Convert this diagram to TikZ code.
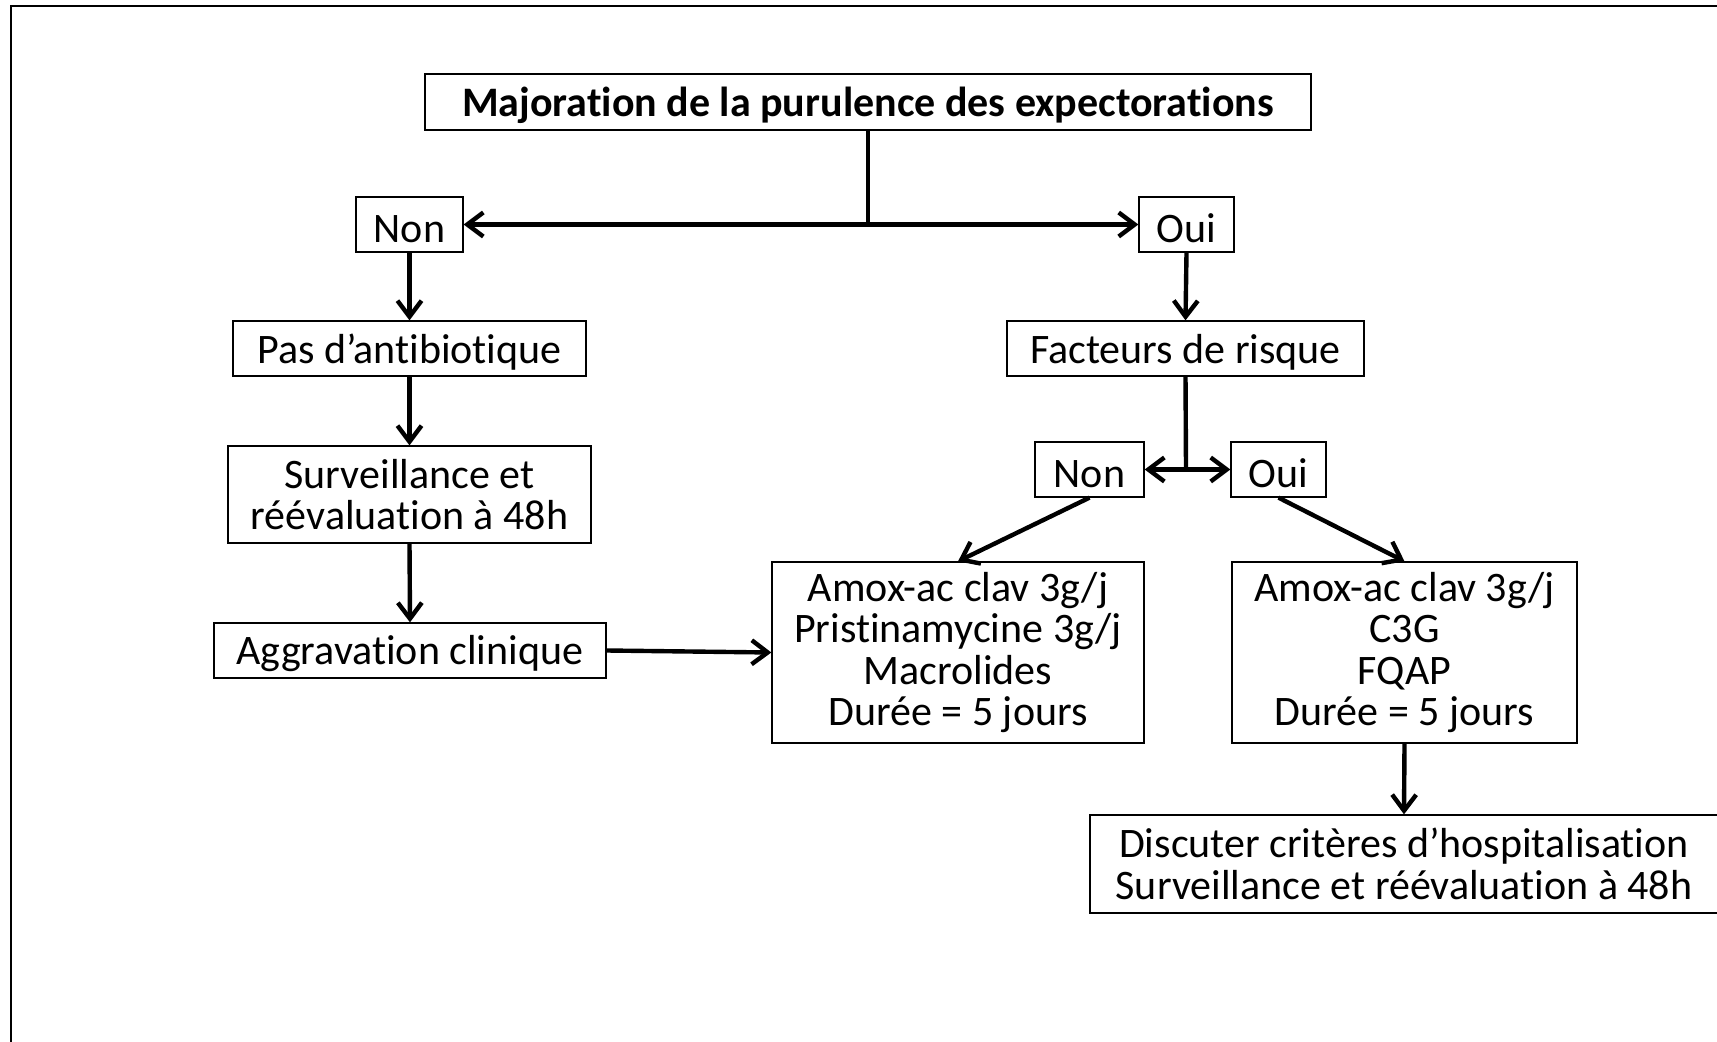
\documentclass[tikz,border=0pt]{standalone}
\usepackage{fontspec}
\setmainfont{Carlito}[Ligatures={NoCommon,NoContextual}]
\usetikzlibrary{arrows.meta}
\begin{document}
\begin{tikzpicture}[x=0.5pt,y=-0.5pt,
  box/.style={draw, line width=0.65pt, inner sep=0pt, align=center,
    font=\fontsize{21}{20.8}\selectfont,
    execute at begin node={\rule{0pt}{18pt}}},
  tallbox/.style={box, execute at begin node={\rule{0pt}{21.5pt}}},
  arr/.style={line width=2.2pt, -{Straight Barb[length=8pt,width=12pt]}},
  lin/.style={line width=2.2pt}]
\useasboundingbox (0,0) rectangle (1717,1042);
\clip (0,0) rectangle (1717,1042);
\draw[line width=1.15pt] (11.2,6) rectangle (1780,1100);

\node[box, minimum width=443pt, minimum height=28pt, font=\fontsize{21}{20.8}\selectfont\bfseries] (top) at (868,102) {Majoration de la purulence des expectorations};
\node[box, minimum width=53.5pt, minimum height=27.5pt] (non1) at (409.5,224.5) {Non};
\node[box, minimum width=47.5pt, minimum height=27.5pt] (oui1) at (1186.5,224.5) {Oui};
\node[box, minimum width=176.5pt, minimum height=27.5pt] (pas) at (409.5,348.5) {Pas d’antibiotique};
\node[box, minimum width=178.5pt, minimum height=27.5pt] (fact) at (1185.5,348.5) {Facteurs de risque};
\node[box, minimum width=181.5pt, minimum height=48.5pt] (surv) at (409.5,494.5) {Surveillance et\\réévaluation à 48h};
\node[box, minimum width=54.5pt, minimum height=27.5pt] (non2) at (1089.5,469.5) {Non};
\node[box, minimum width=47.5pt, minimum height=27.5pt] (oui2) at (1278.5,469.5) {Oui};
\node[box, minimum width=196pt, minimum height=27.5pt] (aggr) at (410,650.5) {Aggravation clinique};
\node[tallbox, minimum width=186pt, minimum height=90.5pt] (amoxL) at (958,652.5) {Amox-ac clav 3g/j\\Pristinamycine 3g/j\\Macrolides\\Durée = 5 jours};
\node[tallbox, minimum width=172.5pt, minimum height=90.5pt] (amoxR) at (1404.5,652.5) {Amox-ac clav 3g/j\\C3G\\FQAP\\Durée = 5 jours};
\node[box, minimum width=314pt, minimum height=49pt] (disc) at (1404,864) {Discuter critères d’hospitalisation\\Surveillance et réévaluation à 48h};

\coordinate (j1) at (868,224.5);
\draw[lin] (top.south) -- (j1);
\draw[arr] (j1) -- (non1.east);
\draw[arr] (j1) -- (oui1.west);
\draw[arr] (non1.south) -- (pas.north);
\draw[arr] (pas.south) -- (surv.north);
\draw[arr] (surv.south) -- (aggr.north);
\draw[arr] (aggr.east) -- (amoxL.west);
\draw[arr] (oui1.south) -- (fact.north);
\coordinate (j2) at (1186,469.5);
\draw[lin] (fact.south) -- (j2);
\draw[arr] (j2) -- (non2.east);
\draw[arr] (j2) -- (oui2.west);
\draw[arr] (non2.south) -- (amoxL.north);
\draw[arr] (oui2.south) -- (amoxR.north);
\draw[arr] (amoxR.south) -- (disc.north);
\end{tikzpicture}
\end{document}
